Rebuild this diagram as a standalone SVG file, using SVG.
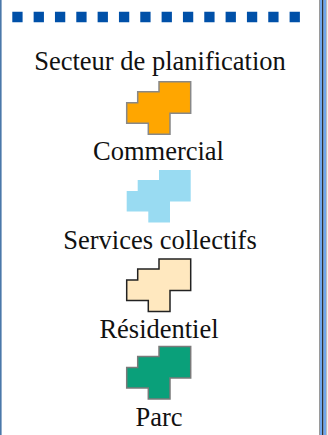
<svg xmlns="http://www.w3.org/2000/svg" width="328" height="435" viewBox="0 0 328 435">
<style>
.t{font-family:"Liberation Serif","Times New Roman",serif;font-size:26.5px;fill:#111;text-anchor:middle}
.sym{stroke-width:1.5;stroke-linejoin:miter}
</style>
<defs>
<polygon id="shape" points="32.3,0 64,0 64,31.6 43.3,31.6 43.3,52.6 21.6,52.6 21.6,41.6 0,41.6 0,21 11,21 11,10 32.3,10"/>
</defs>
<rect x="0" y="0" width="328" height="435" fill="#ffffff"/>
<g id="frame">
<rect x="0" y="0" width="1.6" height="435" fill="#4a78aa"/>
<rect x="319" y="0" width="1" height="435" fill="#9a9a9a"/>
<rect x="320" y="0" width="2.2" height="435" fill="#6fa6ec"/>
<rect x="322.2" y="0" width="1.3" height="435" fill="#000000"/>
<rect x="323.5" y="0" width="2.7" height="435" fill="#6fa6ec"/>
<rect x="326.2" y="0" width="1" height="435" fill="#b0b0b0"/>
<line x1="12.3" y1="17" x2="300.5" y2="17" stroke="#0050a8" stroke-width="10.5" stroke-dasharray="10.3 11.03"/>
</g>
<g id="title">
<text class="t" x="160" y="70">Secteur de planification</text>
</g>
<g id="commercial">
<use href="#shape" x="126.7" y="81.7" class="sym" fill="#ffa600" stroke="#888888"/>
<text class="t" x="158.5" y="160">Commercial</text>
</g>
<g id="services">
<use href="#shape" x="126.7" y="170" fill="#99dbf2"/>
<text class="t" x="160" y="249">Services collectifs</text>
</g>
<g id="residentiel">
<use href="#shape" x="126.7" y="259" class="sym" fill="#ffe8bf" stroke="#222222"/>
<text class="t" x="159" y="338">Résidentiel</text>
</g>
<g id="parc">
<use href="#shape" x="126.7" y="346.5" class="sym" fill="#0aa07a" stroke="#7a7a7a"/>
<text class="t" x="159" y="426">Parc</text>
</g>
<g id="connectors"/>
</svg>
